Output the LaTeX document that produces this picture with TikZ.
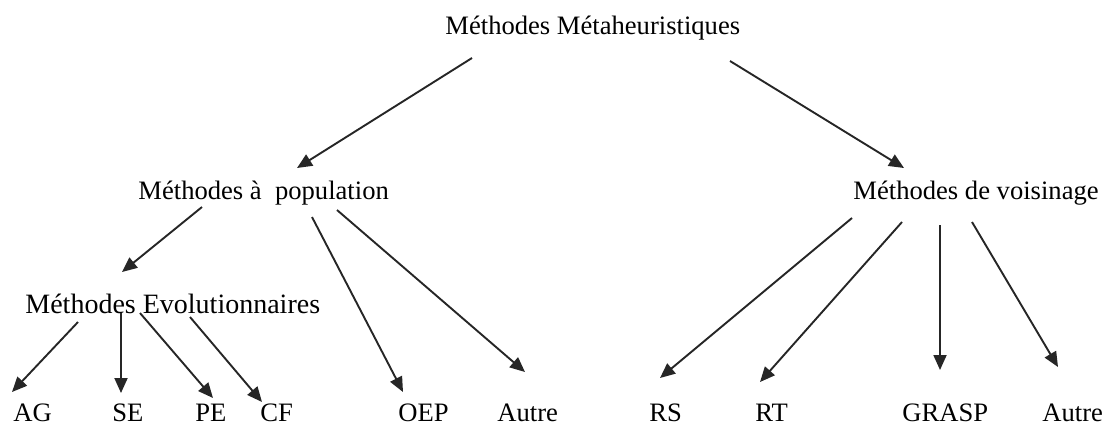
\documentclass[tikz,border=0pt]{standalone}
\usepackage{fontspec}
\setmainfont{Liberation Serif}
\usetikzlibrary{arrows.meta}
\begin{document}
\begin{tikzpicture}[x=0.5pt,y=-0.5pt,
  lbl/.style={anchor=base west,inner sep=0pt,font=\fontsize{13.3}{16}\selectfont,
              text height=9pt,text depth=2.5pt},
  arr/.style={draw=black!85,line width=0.95pt,-{Triangle[length=7.5pt,width=6.5pt]}}]
\useasboundingbox (0,0) rectangle (1107,425);

% tree levels
\node[lbl] (top)   at (445,34)  {Méthodes Métaheuristiques};
\node[lbl] (pop)   at (138,199) {Méthodes à\ \ population};
\node[lbl] (voi)   at (853,199) {Méthodes de voisinage};
\node[lbl,font=\fontsize{14}{16}\selectfont] (evo) at (25,313) {Méthodes Evolutionnaires};

% leaves
\node[lbl] (ag)    at (13,421)   {AG};
\node[lbl] (se)    at (112,421)  {SE};
\node[lbl] (pe)    at (195,421)  {PE};
\node[lbl] (cf)    at (260,421)  {CF};
\node[lbl] (oep)   at (398,421)  {OEP};
\node[lbl] (autA)  at (497,421)  {Autre};
\node[lbl] (rs)    at (649,421)  {RS};
\node[lbl] (rt)    at (755,421)  {RT};
\node[lbl] (grasp) at (902,421)  {GRASP};
\node[lbl] (autB)  at (1042,421) {Autre};

% connectors
\draw[arr] ([shift={(27,24)}]top.base west)  -- ([shift={(159,-31)}]pop.base west);
\draw[arr] ([shift={(285,27)}]top.base west) -- ([shift={(51,-31)}]voi.base west);

\draw[arr] ([shift={(64,8)}]pop.base west)   -- ([shift={(97,-41)}]evo.base west);
\draw[arr] ([shift={(174,18)}]pop.base west) -- ([shift={(5,-29)}]oep.base west);
\draw[arr] ([shift={(199,11)}]pop.base west) -- ([shift={(28,-49)}]autA.base west);

\draw[arr] ([shift={(-1,19)}]voi.base west)  -- ([shift={(11,-43)}]rs.base west);
\draw[arr] ([shift={(49,23)}]voi.base west)  -- ([shift={(5,-39)}]rt.base west);
\draw[arr] ([shift={(87,26)}]voi.base west)  -- ([shift={(38,-51)}]grasp.base west);
\draw[arr] ([shift={(119,23)}]voi.base west) -- ([shift={(16,-54)}]autB.base west);

\draw[arr] ([shift={(53,9)}]evo.base west)   -- ([shift={(-1,-29)}]ag.base west);
\draw[arr] ([shift={(96,0)}]evo.base west)   -- ([shift={(9,-28)}]se.base west);
\draw[arr] ([shift={(115,0)}]evo.base west)  -- ([shift={(18,-23)}]pe.base west);
\draw[arr] ([shift={(165,4)}]evo.base west)  -- ([shift={(2,-19)}]cf.base west);
\end{tikzpicture}
\end{document}
